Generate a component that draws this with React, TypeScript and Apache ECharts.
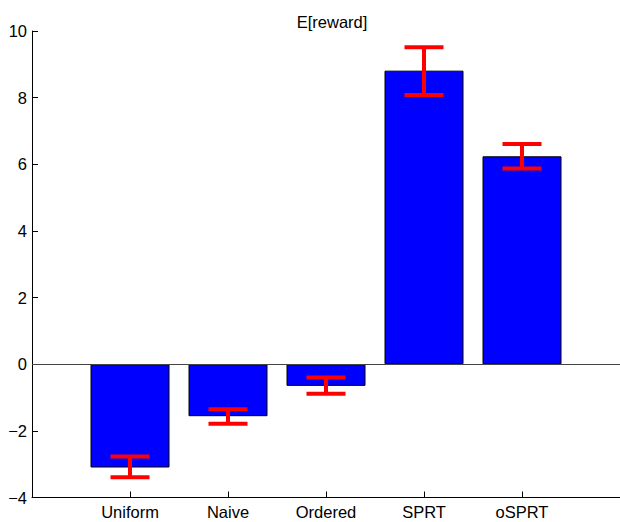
import React, { useEffect, useRef } from "react";
import * as echarts from "echarts";

const categories = ["Uniform", "Naive", "Ordered", "SPRT", "oSPRT"];
const means = [-3.1, -1.56, -0.65, 8.81, 6.24];
const errLow = [-3.39, -1.79, -0.89, 8.08, 5.87];
const errHigh = [-2.77, -1.35, -0.4, 9.51, 6.61];
const yTicks = [-4, -2, 0, 2, 4, 6, 8, 10];

const FONT = "'Liberation Sans', Arial, Helvetica, sans-serif";

export default function App() {
  const ref = useRef<HTMLDivElement>(null);
  useEffect(() => {
    if (!ref.current) return;
    const chart = echarts.init(ref.current, null, { renderer: "svg" });
    const positions = categories.map((_, i) => i + 1);
    chart.setOption({
      animation: false,
      backgroundColor: "#ffffff",
      textStyle: { fontFamily: FONT },
      title: {
        text: "E[reward]",
        left: 327,
        top: 8,
        textAlign: "center",
        textStyle: { fontFamily: FONT, fontSize: 16.5, fontWeight: "normal", color: "#000" },
      },
      grid: { left: 32, top: 31, width: 590, height: 466.5, containLabel: false },
      xAxis: {
        type: "value",
        min: 0,
        max: 6,
        interval: 1,
        splitLine: { show: false },
        axisLine: { show: true, onZero: false, lineStyle: { color: "#000", width: 1 } },
        axisTick: { show: true, inside: true, length: 6, customValues: positions, lineStyle: { color: "#000" } },
        axisLabel: {
          show: true,
          customValues: positions,
          formatter: (v: number) => categories[Math.round(v) - 1] ?? "",
          color: "#000",
          fontSize: 16.5,
          fontFamily: FONT,
          margin: 6,
        },
      },
      yAxis: {
        type: "value",
        min: yTicks[0],
        max: yTicks[yTicks.length - 1],
        interval: 2,
        splitLine: { show: false },
        axisLine: { show: true, onZero: false, lineStyle: { color: "#000", width: 1 } },
        axisTick: { show: true, inside: true, length: 6, lineStyle: { color: "#000" } },
        axisLabel: {
          color: "#000",
          fontSize: 16.5,
          fontFamily: FONT,
          margin: 5,
          formatter: (v: number) => String(v).replace("-", "\u2212"),
        },
      },
      series: [
        {
          type: "bar",
          data: means.map((m, i) => [positions[i], m]),
          barWidth: 79,
          itemStyle: { color: "#0000ff", borderColor: "#000", borderWidth: 1 },
          markLine: {
            silent: true,
            symbol: "none",
            label: { show: false },
            lineStyle: { color: "#444", width: 1, type: "solid" },
            data: [{ yAxis: 0 }],
          },
        },
        {
          type: "custom",
          data: errLow.map((lo, i) => [positions[i], lo, errHigh[i]]),
          encode: { x: 0, y: [1, 2] },
          z: 10,
          renderItem: (params: any, api: any) => {
            const x = api.value(0);
            const pLo = api.coord([x, api.value(1)]);
            const pHi = api.coord([x, api.value(2)]);
            const hw = 19.5;
            const style = { stroke: "#ff0000", lineWidth: 4 };
            return {
              type: "group",
              children: [
                { type: "line", shape: { x1: pLo[0], y1: pLo[1], x2: pHi[0], y2: pHi[1] }, style },
                { type: "line", shape: { x1: pLo[0] - hw, y1: pLo[1], x2: pLo[0] + hw, y2: pLo[1] }, style },
                { type: "line", shape: { x1: pHi[0] - hw, y1: pHi[1], x2: pHi[0] + hw, y2: pHi[1] }, style },
              ],
            };
          },
        },
      ],
    });
    return () => chart.dispose();
  }, []);
  return (
    <div
      ref={ref}
      style={{ position: "absolute", left: 0, top: 0, width: 620, height: 522, background: "#fff" }}
    />
  );
}
